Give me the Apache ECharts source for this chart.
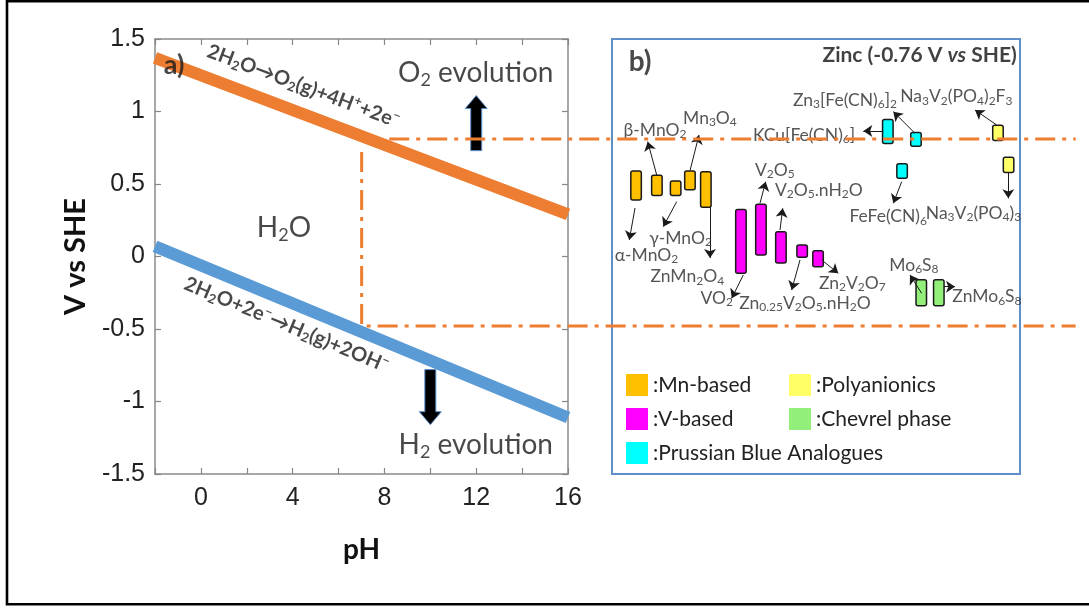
<!DOCTYPE html>
<html><head><meta charset="utf-8">
<script src="https://cdn.jsdelivr.net/npm/echarts@6/dist/echarts.min.js"></script>
<style>html,body{margin:0;padding:0;background:#fff}#c{width:1089px;height:608px}</style>
</head><body><div id="c"></div>
<script>
// ---------------- data ----------------
// Panel a) : potential (V vs SHE) vs pH
const phTicks = [-2, 16];            // pH axis range
const vTicks = [-1.5, 1.5];          // potential axis range
const o2Line = [[-2, 1.37], [16, 0.29]];   // O2 evolution boundary
const h2Line = [[-2, 0.07], [16, -1.11]];  // H2 evolution boundary
const blockArrows = [[12.0, 0.73, 1.11], [10.0, -0.78, -1.16]]; // pH, start V, tip V
const windowTop = [[8.2, 0.81], [38.1, 0.81]];
const windowLow = [[7, 0.72], [7, -0.48], [38.1, -0.48]];

// Panel b) : voltage windows of cathode materials (V vs SHE): [slot, low, high]
const mnNames = ['α-MnO_2', 'β-MnO_2', 'γ-MnO_2', 'Mn_3O_4', 'ZnMn_2O_4'];
const mnBars = [[5.9, 0.39, 0.59], [11.0, 0.42, 0.56], [15.6, 0.42, 0.52], [19.1, 0.46, 0.59], [23.0, 0.34, 0.585]];
const vNames = ['VO_2', 'V_2O_5', 'V_2O_5.nH_2O', 'Zn_{0.25}V_2O_5.nH_2O', 'Zn_2V_2O_7'];
const vBars = [[31.6, -0.115, 0.325], [36.5, 0.01, 0.36], [41.4, -0.045, 0.17], [46.6, -0.005, 0.08], [50.5, -0.07, 0.04]];
const pbaNames = ['KCu[Fe(CN)_6]', 'Zn_3[Fe(CN)_6]_2', 'FeFe(CN)_6'];
const pbaBars = [[67.6, 0.78, 0.945], [74.5, 0.76, 0.855], [71.1, 0.54, 0.64]];
const polyNames = ['Na_3V_2(PO_4)_2F_3', 'Na_3V_2(PO_4)_3'];
const polyBars = [[94.6, 0.80, 0.905], [97.2, 0.58, 0.685]];
const chevNames = ['Mo_6S_8', 'ZnMo_6S_8'];
const chevBars = [[75.8, -0.34, -0.16], [80.1, -0.34, -0.16]];
const groupNames = ['Mn-based', 'V-based', 'Prussian Blue Analogues', 'Polyanionics', 'Chevrel phase'];

// pointer arrows from each bar to its label (same order as names)
const mnArrows = [[[5.64, 0.334], [4.24, 0.114]], [[10.96, 0.562], [8.75, 0.792]], [[15.86, 0.378], [12.57, 0.206]], [[19.12, 0.592], [21.32, 0.838]], [[24.02, 0.348], [24.02, -0.01]]];
const vArrows = [[[32.18, -0.128], [29.34, -0.288]], [[36.27, 0.367], [37.67, 0.516]], [[41.18, 0.183], [41.84, 0.332]], [[46.08, -0.024], [44.04, -0.231]], [[51.4, -0.024], [55.47, -0.116]]];
const pbaArrows = [[[66.5, 0.866], [61.6, 0.866]], [[74.26, 0.85], [68.95, 0.999]], [[71.0, 0.516], [68.95, 0.367]]];
const polyArrows = [[[94.29, 0.907], [88.97, 1.01]], [[97.13, 0.576], [97.13, 0.401]]];
const chevArrows = [[[75.9, -0.254], [73.04, -0.128]], [[81.37, -0.208], [84.07, -0.208]]];

// label anchor points (centre of each label) for panel b
const mnLabelAt = [[8.46, 0.01], [10.54, 0.872], [16.8, 0.128], [24.0, 0.955], [18.46, -0.139]];
const vLabelAt = [[25.66, -0.286], [39.9, 0.597], [50.7, 0.459], [47.3, -0.321], [58.9, -0.183]];
const pbaLabelAt = [[47.06, 0.838], [57.1, 1.079], [67.7, 0.274]];
const polyLabelAt = [[84.4, 1.102], [88.6, 0.30]];
const chevLabelAt = [[74.0, -0.059], [91.9, -0.277]];

// ---------------- helpers ----------------
const CAL = 'Lato, "Open Sans", sans-serif';
const ARI = '"Liberation Sans", Arial, sans-serif';
function toRich(s) {
  let out = '', buf = '';
  const flush = () => { if (buf) { out += '{n|' + buf + '}'; buf = ''; } };
  for (let i = 0; i < s.length; i++) {
    const c = s[i];
    if (c === '_' || c === '^') {
      flush();
      let t;
      if (s[i + 1] === '{') { const j = s.indexOf('}', i + 2); t = s.slice(i + 2, j); i = j; }
      else { t = s[i + 1]; i++; }
      out += '{' + (c === '_' ? 's' : 'p') + '|' + t + '}';
    } else buf += c;
  }
  flush();
  return out;
}
function makeRich(f, w, color) {
  const base = { fontFamily: CAL, fontWeight: w, color: color, fontSize: f, lineHeight: Math.round(f * 1.3) };
  const sf = Math.round(f * 0.66);
  return {
    n: base,
    s: Object.assign({}, base, { fontSize: sf, padding: [Math.round(f * 0.5), 0, 0, 0] }),
    p: Object.assign({}, base, { fontSize: sf, padding: [0, 0, Math.round(f * 0.5), 0] }),
    i: Object.assign({}, base, { fontStyle: 'italic' })
  };
}
function note(pos, text, f, w, rot, color, align) {
  return {
    value: pos,
    label: {
      show: true, position: 'inside', rotate: rot || 0, align: align || 'center',
      formatter: text.indexOf('{') === 0 && text.indexOf('|') > 0 ? text : toRich(text),
      rich: makeRich(f, w, color || '#1a1a1a')
    }
  };
}
function renderBar(params, api) {
  const x = api.value(0), lo = api.value(1), hi = api.value(2);
  const a = api.coord([x, hi]), b = api.coord([x, lo]);
  const w = 10.5;
  return { type: 'rect', shape: { x: a[0] - w / 2, y: a[1], width: w, height: b[1] - a[1], r: 2 },
    style: { fill: api.visual('color'), stroke: '#1a1a1a', lineWidth: 1.5 } };
}
function renderBlockArrow(params, api) {
  const x = api.value(0), y0 = api.value(1), y1 = api.value(2);
  const a = api.coord([x, y0]), b = api.coord([x, y1]);
  const dir = b[1] < a[1] ? -1 : 1;
  const hw = 5.5, hh = 11, hl = 13, cx = a[0];
  const hb = b[1] - dir * hl;
  return { type: 'polygon', shape: { points: [[cx - hw, a[1]], [cx - hw, hb], [cx - hh, hb], [cx, b[1]], [cx + hh, hb], [cx + hw, hb], [cx + hw, a[1]]] },
    style: { fill: '#000', stroke: '#5B8FCB', lineWidth: 1 } };
}
const colors = ['#FFC000', '#FF00FF', '#00FFFF', '#FFFF66', '#92F07A'];
const groups = [
  [mnBars, mnNames, mnArrows, mnLabelAt],
  [vBars, vNames, vArrows, vLabelAt],
  [pbaBars, pbaNames, pbaArrows, pbaLabelAt],
  [polyBars, polyNames, polyArrows, polyLabelAt],
  [chevBars, chevNames, chevArrows, chevLabelAt]
];

const tickStyle = { show: true, inside: true, length: 6, lineStyle: { color: '#888', width: 1.2 } };
const axisLine = { show: true, onZero: false, lineStyle: { color: '#8a8a8a', width: 1.5 } };

const series = [];
series.push({ type: 'line', xAxisIndex: 0, yAxisIndex: 0, data: o2Line, showSymbol: false, symbol: 'none', z: 3,
  lineStyle: { width: 12, color: '#ED7D31', cap: 'butt' } });
series.push({ type: 'line', xAxisIndex: 0, yAxisIndex: 0, data: h2Line, showSymbol: false, symbol: 'none', z: 3,
  lineStyle: { width: 12, color: '#5B9BD5', cap: 'butt' } });
series.push({ type: 'custom', xAxisIndex: 0, yAxisIndex: 0, data: blockArrows, renderItem: renderBlockArrow, z: 4 });
series.push({ type: 'scatter', xAxisIndex: 0, yAxisIndex: 0, symbolSize: 1, itemStyle: { color: 'transparent' }, z: 6, silent: true,
  data: [
    note([-1.17, 1.32], 'a)', 27, 'bold', 0),
    note([4.47, 1.175], '2H_2O→O_2(g)+4H^{+}+2e^{−}', 20, 'bold', -20.5),
    note([11.98, 1.266], 'O_2 evolution', 28, 'normal', 0),
    note([3.62, 0.197], 'H_2O', 28, 'normal', 0),
    note([3.73, -0.47], '2H_2O+2e^{−}→H_2(g)+2OH^{−}', 20, 'bold', -22.5),
    note([11.98, -1.30], 'H_2 evolution', 28, 'normal', 0)
  ] });

groups.forEach((g, k) => {
  series.push({ type: 'custom', name: groupNames[k], xAxisIndex: 2, yAxisIndex: 2, data: g[0], renderItem: renderBar,
    itemStyle: { color: colors[k] }, z: 3 });
});
const arrowData = [];
groups.forEach(g => g[2].forEach(c => arrowData.push({ coords: c })));
series.push({ type: 'lines', coordinateSystem: 'cartesian2d', xAxisIndex: 2, yAxisIndex: 2, data: arrowData,
  symbol: ['none', 'arrow'], symbolSize: 9, lineStyle: { color: '#1a1a1a', width: 1, opacity: 1, curveness: 0 }, z: 4, silent: true });
const rightNotes = [];
groups.forEach(g => g[1].forEach((nm, i) => rightNotes.push(note(g[3][i], nm, 17.5, 'normal', 0, '#2a2a2a'))));
rightNotes.push(note([6.9, 1.34], 'b)', 28, 'bold', 0));
rightNotes.push(note([99.2, 1.39], '{n|Zinc (-0.76 V }{i|vs}{n| SHE)}', 21, 'bold', 0, '#111', 'right'));
series.push({ type: 'scatter', xAxisIndex: 2, yAxisIndex: 2, symbolSize: 1, itemStyle: { color: 'transparent' }, z: 6, silent: true, data: rightNotes });

const dashStyle = { color: '#ED7D31', width: 3, type: [20, 7, 4, 7] };
series.push({ type: 'line', xAxisIndex: 3, yAxisIndex: 3, data: windowTop, symbol: 'none', lineStyle: dashStyle, z: 8, silent: true });
series.push({ type: 'line', xAxisIndex: 3, yAxisIndex: 3, data: windowLow, symbol: 'none', lineStyle: dashStyle, z: 8, silent: true });

const option = {
  backgroundColor: '#fff',
  animation: false,
  graphic: [{ type: 'rect', shape: { x: 7, y: 1.3, width: 1100, height: 603 }, style: { fill: 'none', stroke: '#000', lineWidth: 2.6 }, z: 100 }],
  grid: [
    { left: 155, top: 39, width: 413, height: 435 },
    { left: 612, top: 39, width: 408, height: 435, show: true, borderColor: '#5F8FC8', borderWidth: 2, backgroundColor: 'transparent' },
    { left: 155, top: 39, width: 923, height: 435 }
  ],
  xAxis: [
    { gridIndex: 0, type: 'value', min: phTicks[0], max: phTicks[1], interval: 2, position: 'bottom',
      axisLine: axisLine, axisTick: tickStyle, splitLine: { show: false },
      axisLabel: { margin: 12, fontFamily: ARI, fontSize: 25, color: '#222', formatter: v => (v % 4 === 0 ? String(v) : '') },
      name: 'pH', nameLocation: 'middle', nameGap: 62, nameTextStyle: { fontFamily: CAL, fontWeight: 'bold', fontSize: 28, color: '#111' } },
    { gridIndex: 0, type: 'value', min: phTicks[0], max: phTicks[1], interval: 2, position: 'top',
      axisLine: axisLine, axisTick: tickStyle, axisLabel: { show: false }, splitLine: { show: false } },
    { gridIndex: 1, type: 'value', min: 0, max: 100, show: false },
    { gridIndex: 2, type: 'value', min: -2, max: 38.2, show: false }
  ],
  yAxis: [
    { gridIndex: 0, type: 'value', min: vTicks[0], max: vTicks[1], interval: 0.5, position: 'left',
      axisLine: axisLine, axisTick: tickStyle, splitLine: { show: false },
      axisLabel: { margin: 10, fontFamily: ARI, fontSize: 25, color: '#222' },
      name: 'V vs SHE', nameLocation: 'middle', nameGap: 65, nameRotate: 90,
      nameTextStyle: { fontFamily: CAL, fontWeight: 'bold', fontSize: 29, color: '#111' } },
    { gridIndex: 0, type: 'value', min: vTicks[0], max: vTicks[1], interval: 0.5, position: 'right',
      axisLine: axisLine, axisTick: tickStyle, axisLabel: { show: false }, splitLine: { show: false } },
    { gridIndex: 1, type: 'value', min: vTicks[0], max: vTicks[1], show: false },
    { gridIndex: 2, type: 'value', min: vTicks[0], max: vTicks[1], show: false }
  ],
  legend: [
    { data: groupNames.slice(0, 3), orient: 'vertical', left: 621, top: 369, itemWidth: 22, itemHeight: 22, itemGap: 12,
      icon: 'rect', selectedMode: false, formatter: n => ':' + n, itemStyle: { borderWidth: 0 },
      textStyle: { fontFamily: CAL, fontSize: 21, color: '#222' } },
    { data: groupNames.slice(3), orient: 'vertical', left: 784, top: 369, itemWidth: 22, itemHeight: 22, itemGap: 12,
      icon: 'rect', selectedMode: false, formatter: n => ':' + n, itemStyle: { borderWidth: 0 },
      textStyle: { fontFamily: CAL, fontSize: 21, color: '#222' } }
  ],
  series: series
};
const chart = echarts.init(document.getElementById('c'), null, { renderer: 'canvas' });
chart.setOption(option);
</script></body></html>
